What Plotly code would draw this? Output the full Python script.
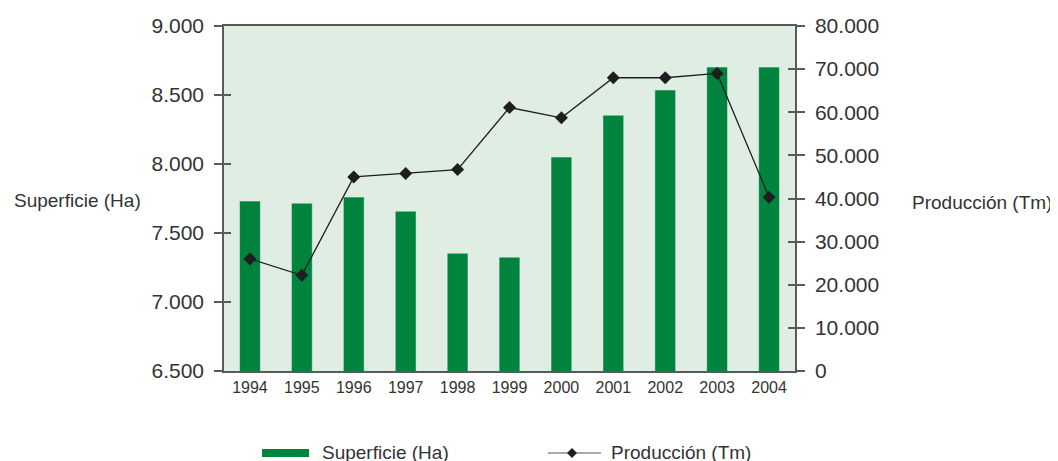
import plotly.graph_objects as go

years = ["1994", "1995", "1996", "1997", "1998", "1999", "2000", "2001", "2002", "2003", "2004"]
superficie = [7731, 7716, 7760, 7658, 7353, 7325, 8050, 8354, 8536, 8702, 8702]
produccion = [26000, 22200, 45000, 45800, 46700, 61100, 58700, 68000, 68000, 69000, 40300]

y_left_range = [6500, 9000]
y_right_range = [0, 80000]

BAR = "#00843d"
BG = "#e0ede3"
TXT = "#333333"
AX = "#5a5a5a"
FONT = "Liberation Sans, Arial, sans-serif"

W, H = 1058, 461
OFF = 8  # page body margin in the browser
# plot area in reference (window) pixels
PL, PR, PT, PB = 224, 795, 26, 371
pw, ph = PR - PL, PB - PT
L, T = PL - OFF, PT - OFF
R, B = W - L - pw, H - T - ph

def px(x):
    return (x - PL) / pw

def py(y):
    return (PB - y) / ph

fig = go.Figure()
fig.add_trace(go.Bar(x=years, y=superficie, marker_color=BAR, width=0.4,
                     name="Superficie (Ha)", yaxis="y"))
fig.add_trace(go.Scatter(x=years, y=produccion, mode="lines+markers", name="Producción (Tm)",
                         line=dict(color="#1e1e1e", width=1.3),
                         marker=dict(symbol="diamond", size=10, color="#1e1e1e"),
                         yaxis="y2"))
# invisible helpers so the inner-tick overlay axes get drawn
fig.add_trace(go.Scatter(x=years, y=superficie, mode="markers", marker=dict(opacity=0),
                         hoverinfo="skip", yaxis="y3", showlegend=False))
fig.add_trace(go.Scatter(x=years, y=produccion, mode="markers", marker=dict(opacity=0),
                         hoverinfo="skip", yaxis="y4", showlegend=False))

tickfont = dict(family=FONT, size=21, color=TXT)
fig.update_layout(
    width=W, height=H,
    margin=dict(l=L, r=R, t=T, b=B, pad=0, autoexpand=False),
    paper_bgcolor="white", plot_bgcolor=BG,
    separators=",.",
    showlegend=False,
    bargap=0.6,
    xaxis=dict(type="category", showline=True, linecolor=AX, linewidth=1.5, mirror=True,
               ticks="", showgrid=False, tickfont=dict(family=FONT, size=16, color=TXT),
               ticklabelstandoff=1, range=[-0.5, 10.5], automargin=False),
    yaxis=dict(range=y_left_range, dtick=500, tickformat=",d", showgrid=False, zeroline=False,
               showline=True, linecolor=AX, linewidth=1.5, ticks="outside", ticklen=8,
               tickcolor=AX, tickwidth=1.5, tickfont=tickfont, ticklabelstandoff=6,
               automargin=False),
    yaxis2=dict(range=y_right_range, dtick=10000, tickformat=",d", showgrid=False, zeroline=False,
                overlaying="y", side="right", showline=True, linecolor=AX, linewidth=1.5,
                ticks="outside", ticklen=8, tickcolor=AX, tickwidth=1.5, tickfont=tickfont,
                ticklabelstandoff=6, automargin=False),
    yaxis3=dict(range=y_left_range, dtick=500, overlaying="y", side="left", showgrid=False,
                zeroline=False, showline=False, ticks="inside", ticklen=7, tickcolor=AX,
                tickwidth=1.5, showticklabels=False, automargin=False),
    yaxis4=dict(range=y_right_range, dtick=10000, overlaying="y", side="right", showgrid=False,
                zeroline=False, showline=False, ticks="inside", ticklen=7, tickcolor=AX,
                tickwidth=1.5, showticklabels=False, automargin=False),
)

# axis titles
fig.add_annotation(text="Superficie (Ha)", xref="paper", yref="paper", x=px(12), y=py(200),
                   xanchor="left", yanchor="middle", showarrow=False,
                   font=dict(family=FONT, size=19, color=TXT))
fig.add_annotation(text="Producción (Tm)", xref="paper", yref="paper", x=px(910), y=py(203),
                   xanchor="left", yanchor="middle", showarrow=False,
                   font=dict(family=FONT, size=19, color=TXT))

# manual legend
ly = 452
fig.add_shape(type="rect", xref="paper", yref="paper", x0=px(262), x1=px(309),
              y0=py(457), y1=py(449), fillcolor=BAR, line=dict(width=0))
fig.add_annotation(text="Superficie (Ha)", xref="paper", yref="paper", x=px(320), y=py(ly),
                   xanchor="left", yanchor="middle", showarrow=False,
                   font=dict(family=FONT, size=19, color=TXT))
fig.add_shape(type="line", xref="paper", yref="paper", x0=px(548), x1=px(601),
              y0=py(453), y1=py(453), line=dict(color="#555555", width=1.2))
d = 5
fig.add_shape(type="path", xref="paper", yref="paper",
              path=f"M {px(572-d)} {py(453)} L {px(572)} {py(453-d)} L {px(572+d)} {py(453)} L {px(572)} {py(453+d)} Z",
              fillcolor="#1e1e1e", line=dict(width=0))
fig.add_annotation(text="Producción (Tm)", xref="paper", yref="paper", x=px(609), y=py(ly),
                   xanchor="left", yanchor="middle", showarrow=False,
                   font=dict(family=FONT, size=19, color=TXT))

fig.write_html("out.html")
